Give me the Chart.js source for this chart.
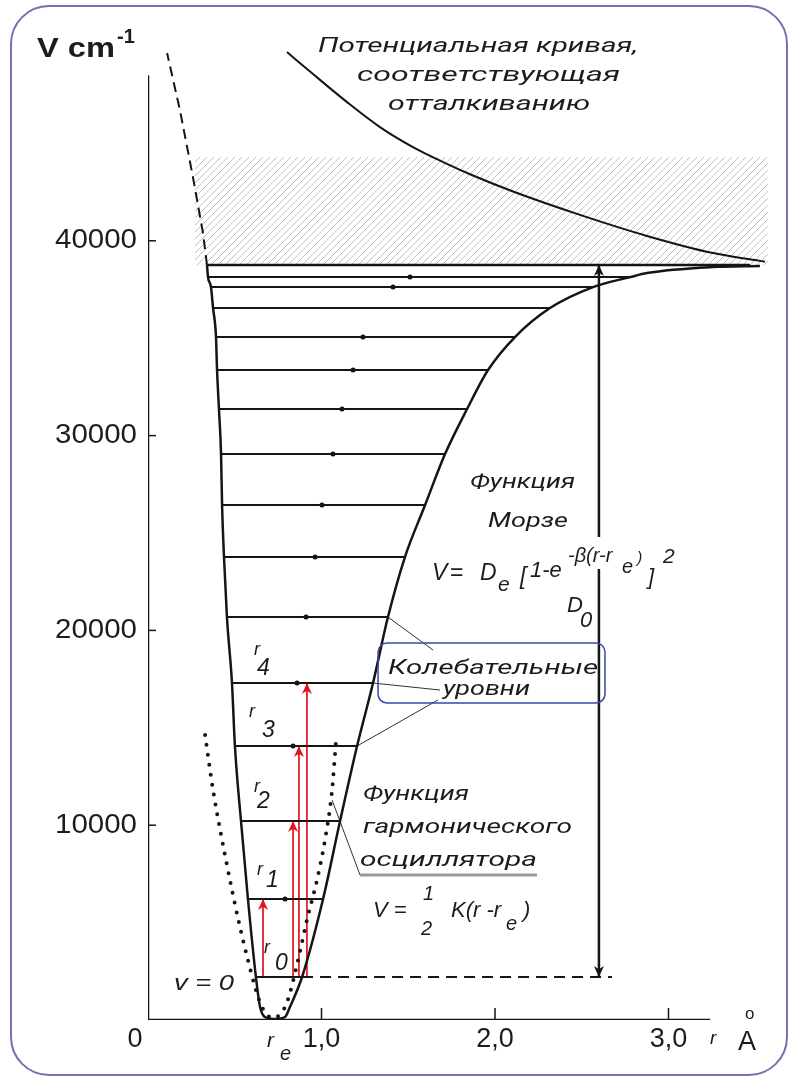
<!DOCTYPE html>
<html>
<head>
<meta charset="utf-8">
<script src="https://cdn.jsdelivr.net/npm/chart.js"></script>
<style>
  html, body { margin: 0; padding: 0; background: #fff; }
  canvas { display: block; }
</style>
</head>
<body>
<canvas id="chart" width="790" height="1078"></canvas>
<script>
// vibrational levels, V in cm-1, ends in r (A)
const levelE     = [2207, 6211, 10215, 14064, 17298, 20686, 23766, 26435, 29053, 31363, 33365, 35058, 36547, 37625, 38138, 38754];
const levelLeft  = [0.622, 0.576, 0.536, 0.501, 0.484, 0.455, 0.438, 0.427, 0.421, 0.409, 0.398, 0.392, 0.375, 0.363, 0.346, 0.340];
const levelRight = [0.888, 1.009, 1.107, 1.205, 1.297, 1.383, 1.481, 1.597, 1.712, 1.839, 1.960, 2.115, 2.317, 2.565, 2.780, 3.470];

// Morse curve, left wall -> bottom -> right branch
const morseR = [0.340, 0.346, 0.363, 0.375, 0.392, 0.398, 0.409, 0.421, 0.427, 0.438, 0.455, 0.484, 0.501, 0.536, 0.576, 0.622,
                0.646, 0.674, 0.732, 0.790, 0.818,
                0.888, 1.009, 1.107, 1.205, 1.297, 1.383, 1.481, 1.597, 1.712, 1.839, 1.960, 2.115, 2.317, 2.565, 2.780, 2.876, 3.256, 3.527];
const morseV = [38754, 38138, 37625, 36547, 35058, 33365, 31363, 29053, 26435, 23766, 20686, 17298, 14064, 10215, 6211, 2207,
                667, 154, 51, 154, 667,
                2207, 6211, 10215, 14064, 17298, 20686, 23766, 26435, 29053, 31363, 33365, 35058, 36547, 37625, 38138, 38344, 38651, 38703];

// dashed continuation of the left wall
const wallR = [0.340, 0.317, 0.259, 0.184, 0.110];
const wallV = [38754, 40400, 43270, 46710, 49640];

// harmonic oscillator (dotted)
const harmR = [0.329, 0.375, 0.455, 0.530, 0.576, 0.617, 0.657, 0.720, 0.790, 0.818, 0.865, 0.916, 0.974, 1.020, 1.061, 1.084];
const harmV = [14630, 11806, 7956, 4774, 3080, 1694, 667, 100, 667, 1386, 3080, 5133, 7186, 9239, 11806, 14372];

// repulsive curve
const repR = [0.801, 0.951, 1.147, 1.337, 1.527, 1.723, 1.873, 2.104, 2.490, 2.876, 3.256, 3.498, 3.556];
const repV = [49687, 48560, 47120, 45838, 44811, 43950, 43350, 42530, 41330, 40250, 39370, 39011, 38930];

// continuum (hatched band)
const contR = [0.27, 3.573];
const contTop = 44300;

// D0 arrow and v=0 dashed line
const d0R = 2.599;
const v0DashEnd = 2.674;

// red transitions from v=0 to v=1..4
const redR = [0.663, 0.836, 0.870, 0.916];
const redTop = [6211, 10215, 14064, 17298];

// small dots on the levels
const dotR = [0.790, 0.836, 0.859, 0.911, 0.963, 1.003, 1.066, 1.118, 1.182, 1.239, 1.412, 1.510];
const dotV = [6211, 14064, 17298, 20686, 23766, 26435, 29053, 31363, 33365, 35058, 37625, 38138];

// leader lines to the captions
const leaders = [
  [[1.383, 20686], [1.643, 18992]],
  [[1.297, 17298], [1.683, 16939]],
  [[1.205, 14064], [1.671, 16426]],
  [[1.061, 11293], [1.222, 7443]]
];
const underline = [[1.222, 7443], [2.242, 7443]];
const levelBox = [1.326, 19351, 2.634, 16272];

// axes
const yTicks = [10000, 20000, 30000, 40000];
const xTicks = [0, 1, 2, 3];
const xTickLabels = ['0', '1,0', '2,0', '3,0'];
const yAxisTop = 48500;
const xAxisEnd = 3.24;

const SANS = '"Liberation Sans", Arial, sans-serif';
const CYR = 'Roboto, "Noto Sans", "Liberation Sans", sans-serif';

const pts = (xs, ys) => xs.map((x, i) => ({ x, y: ys[i] }));
const line = (data, extra) => Object.assign({
  data, showLine: true, pointRadius: 0, borderColor: '#151515', borderWidth: 2, fill: false, tension: 0
}, extra);

const canvas = document.getElementById('chart');
const ctx = canvas.getContext('2d');

function hatch() {
  const c = document.createElement('canvas');
  c.width = 7; c.height = 7;
  const g = c.getContext('2d');
  g.strokeStyle = 'rgba(90,90,90,0.42)';
  g.lineWidth = 0.9;
  g.beginPath(); g.moveTo(-1, 8); g.lineTo(8, -1); g.stroke();
  return ctx.createPattern(c, 'repeat');
}

const datasets = [];
datasets.push(line(pts(contR, [contTop, contTop]), { borderWidth: 0, backgroundColor: hatch(), fill: { value: levelE[15] }, order: 10 }));
datasets.push(line(pts(repR, repV), { cubicInterpolationMode: 'monotone', borderWidth: 2 }));
datasets.push(line(pts(wallR, wallV), { borderDash: [10, 6], borderWidth: 2 }));
datasets.push(line(pts(morseR, morseV), { cubicInterpolationMode: 'monotone', borderWidth: 2.5 }));
datasets.push(line(pts(harmR, harmV), { cubicInterpolationMode: 'monotone', borderWidth: 4, borderDash: [0, 10], borderCapStyle: 'round' }));
levelE.forEach((e, i) => {
  datasets.push(line([{ x: levelLeft[i], y: e }, { x: levelRight[i], y: e }], { borderWidth: i === 15 ? 2.5 : 2 }));
});
datasets.push(line([{ x: levelRight[0], y: levelE[0] }, { x: v0DashEnd, y: levelE[0] }], { borderDash: [11, 7], borderWidth: 2 }));
datasets.push(line([{ x: d0R, y: levelE[0] }, { x: d0R, y: levelE[15] }], { borderWidth: 2.5, arrows: ['start', 'end'] }));
redR.forEach((r, i) => {
  datasets.push(line([{ x: r, y: levelE[0] }, { x: r, y: redTop[i] }], { borderColor: '#e3121c', borderWidth: 1.7, arrows: ['end'] }));
});
datasets.push({ data: pts(dotR, dotV), pointRadius: 2.5, backgroundColor: '#111', borderWidth: 0 });
datasets.push(line([{ x: 0, y: 0 }, { x: 0, y: yAxisTop }], { borderWidth: 2.5 }));
datasets.push(line([{ x: 0, y: 0 }, { x: xAxisEnd, y: 0 }], { borderWidth: 2.5 }));
leaders.forEach(l => {
  datasets.push(line(l.map(p => ({ x: p[0], y: p[1] })), { borderWidth: 1, borderColor: '#333' }));
});
datasets.push(line(underline.map(p => ({ x: p[0], y: p[1] })), { borderWidth: 3, borderColor: '#9a9a9a', order: 5 }));

function txt(c, s, x, y, o) {
  o = o || {};
  const size = o.size || 22;
  c.save();
  c.font = (o.italic ? 'italic ' : '') + (o.bold ? 'bold ' : '') + size + 'px ' + (o.family || SANS);
  c.fillStyle = o.color || '#1c1c1c';
  c.textBaseline = o.baseline || 'alphabetic';
  c.textAlign = 'left';
  const m = c.measureText(s).width;
  const w = o.w || m;
  let x0 = x;
  if (o.align === 'center') x0 = x - w / 2;
  else if (o.align === 'right') x0 = x - w;
  c.translate(x0, y);
  c.scale(w / m, 1);
  c.fillText(s, 0, 0);
  c.restore();
}

const arrowHeads = {
  id: 'arrowHeads',
  afterDatasetsDraw(chart) {
    const c = chart.ctx;
    chart.data.datasets.forEach((ds, i) => {
      if (!ds.arrows) return;
      const p = chart.getDatasetMeta(i).data;
      ds.arrows.forEach(end => {
        const a = end === 'end' ? p[p.length - 1] : p[0];
        const b = end === 'end' ? p[p.length - 2] : p[1];
        const ang = Math.atan2(a.y - b.y, a.x - b.x);
        const len = 11, half = 5;
        c.save();
        c.fillStyle = ds.borderColor;
        c.translate(a.x, a.y);
        c.rotate(ang);
        c.beginPath();
        c.moveTo(0, 0);
        c.lineTo(-len, -half);
        c.lineTo(-len * 0.7, 0);
        c.lineTo(-len, half);
        c.closePath();
        c.fill();
        c.restore();
      });
    });
  }
};

const decor = {
  id: 'decor',
  beforeDraw(chart) {
    const c = chart.ctx;
    c.save();
    c.fillStyle = '#fff';
    c.fillRect(0, 0, chart.width, chart.height);
    c.restore();
  },
  afterDraw(chart) {
    const c = chart.ctx;
    const sx = chart.scales.x, sy = chart.scales.y;
    const X = v => sx.getPixelForValue(v), Y = v => sy.getPixelForValue(v);

    // frame
    c.save();
    c.strokeStyle = '#6f74ae';
    c.lineWidth = 2;
    c.beginPath();
    c.roundRect(11, 6, 776, 1069, 38);
    c.stroke();
    c.restore();

    // box round the level caption
    c.save();
    c.strokeStyle = '#3a46a8';
    c.lineWidth = 1.5;
    c.beginPath();
    c.roundRect(X(levelBox[0]), Y(levelBox[1]), X(levelBox[2]) - X(levelBox[0]), Y(levelBox[3]) - Y(levelBox[1]), 9);
    c.stroke();
    c.restore();

    // ticks
    c.save();
    c.strokeStyle = '#151515';
    c.lineWidth = 1.5;
    yTicks.forEach(v => { c.beginPath(); c.moveTo(X(0), Y(v)); c.lineTo(X(0) + 8, Y(v)); c.stroke(); });
    xTicks.slice(1).forEach(v => { c.beginPath(); c.moveTo(X(v), Y(0)); c.lineTo(X(v), Y(0) - 12); c.stroke(); });
    c.restore();

    yTicks.forEach(v => txt(c, String(v), 137, Y(v), { size: 27, baseline: 'middle', align: 'right', w: 82 }));
    xTicks.forEach((v, i) => txt(c, xTickLabels[i], v === 0 ? X(v) - 13 : X(v), 1040, { size: 27, baseline: 'middle', align: 'center' }));

    // axis titles
    txt(c, 'V cm', 37, 57, { size: 28, bold: true, w: 78 });
    txt(c, '-1', 117, 43, { size: 20, bold: true });
    txt(c, 'r', 267, 1047, { size: 21, italic: true });
    txt(c, 'e', 280, 1060, { size: 20, italic: true });
    txt(c, 'r', 710, 1044, { size: 19, italic: true });
    txt(c, 'A', 738, 1050, { size: 27 });
    txt(c, 'o', 745, 1019, { size: 17 });

    // captions
    const it = { italic: true, family: CYR, size: 21 };
    txt(c, 'Потенциальная кривая,', 318, 52, Object.assign({ w: 320 }, it));
    txt(c, 'соответствующая', 357, 81, Object.assign({ w: 263 }, it));
    txt(c, 'отталкиванию', 388, 110, Object.assign({ w: 202 }, it));
    txt(c, 'Функция', 470, 488, Object.assign({ w: 105 }, it));
    txt(c, 'Морзе', 488, 527, Object.assign({ w: 80 }, it));
    txt(c, 'Колебательные', 388, 674, Object.assign({ w: 210 }, it));
    txt(c, 'уровни', 443, 695, Object.assign({ w: 87 }, it));
    txt(c, 'Функция', 363, 800, Object.assign({ w: 106 }, it));
    txt(c, 'гармонического', 363, 833, Object.assign({ w: 209 }, it));
    txt(c, 'осциллятора', 360, 866, Object.assign({ w: 177 }, it));

    // gap in the D0 arrow behind the exponent
    c.save();
    c.fillStyle = '#fff';
    c.fillRect(X(d0R) - 4, 537, 8, 32);
    c.restore();

    // Morse formula
    const f = { italic: true };
    txt(c, 'V', 432, 580, Object.assign({ size: 23 }, f));
    txt(c, '=', 450, 580, { size: 23 });
    txt(c, 'D', 480, 580, Object.assign({ size: 23 }, f));
    txt(c, 'e', 498, 591, Object.assign({ size: 21 }, f));
    txt(c, '[', 520, 584, Object.assign({ size: 23 }, f));
    txt(c, '1-e', 530, 577, Object.assign({ size: 22 }, f));
    txt(c, '-β(r-r', 568, 562, Object.assign({ size: 20 }, f));
    txt(c, 'e', 622, 573, Object.assign({ size: 20 }, f));
    txt(c, ')', 637, 563, Object.assign({ size: 16 }, f));
    txt(c, ']', 648, 584, Object.assign({ size: 22 }, f));
    txt(c, '2', 663, 563, Object.assign({ size: 21 }, f));
    txt(c, 'D', 567, 612, Object.assign({ size: 22 }, f));
    txt(c, '0', 580, 627, Object.assign({ size: 22 }, f));

    // harmonic formula
    txt(c, 'V =', 373, 917, Object.assign({ size: 22 }, f));
    txt(c, '1', 423, 900, Object.assign({ size: 20 }, f));
    txt(c, '2', 421, 935, Object.assign({ size: 20 }, f));
    txt(c, 'K(r -r', 451, 917, Object.assign({ size: 22 }, f));
    txt(c, 'e', 506, 930, Object.assign({ size: 20 }, f));
    txt(c, ')', 523, 917, Object.assign({ size: 22 }, f));

    // r_n labels
    const rl = [[254, 655, '4', 257, 675], [249, 717, '3', 262, 737], [254, 792, '2', 257, 808], [257, 875, '1', 266, 887], [264, 953, '0', 275, 970]];
    rl.forEach(q => {
      txt(c, 'r', q[0], q[1], Object.assign({ size: 18 }, f));
      txt(c, q[2], q[3], q[4], Object.assign({ size: 23 }, f));
    });
    txt(c, 'v = 0', 174, 990, Object.assign({ size: 22, w: 60 }, f));
  }
};

new Chart(canvas, {
  type: 'scatter',
  data: { datasets },
  options: {
    responsive: false,
    animation: false,
    devicePixelRatio: 1,
    events: [],
    layout: { padding: { left: 148, right: 17.4, top: 46, bottom: 58 } },
    plugins: { legend: { display: false }, tooltip: { enabled: false } },
    scales: {
      x: { type: 'linear', min: 0, max: 3.6, display: false },
      y: { type: 'linear', min: 0, max: 50000, display: false }
    }
  },
  plugins: [decor, arrowHeads]
});
</script>
</body>
</html>
